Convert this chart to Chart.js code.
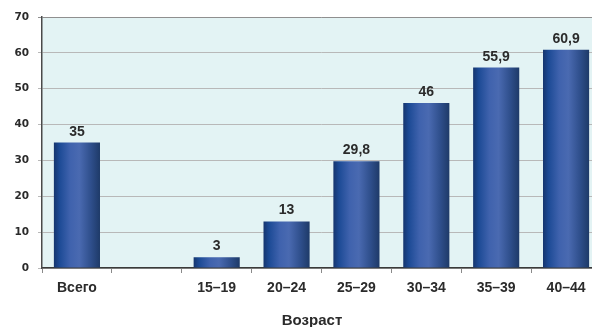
<!DOCTYPE html>
<html>
<head>
<meta charset="utf-8">
<script src="https://cdn.jsdelivr.net/npm/chart.js@4/dist/chart.umd.min.js"></script>
<style>
  html, body { margin: 0; padding: 0; background: #ffffff; overflow: hidden; }
  #wrap { width: 604px; height: 327px; position: relative; }
</style>
</head>
<body>
<div id="wrap"><canvas id="chart"></canvas></div>
<script>
// Age groups and shares (%)
const categories = ['Всего', '', '15–19', '20–24', '25–29', '30–34', '35–39', '40–44'];
const values = [35, null, 3, 13, 29.8, 46, 55.9, 60.9];
const yTicks = [0, 10, 20, 30, 40, 50, 60, 70];
const axisTitle = 'Возраст';

const FONT = '"Liberation Sans", Arial, sans-serif';
const NUM_FONT = '"DejaVu Sans", sans-serif';
const BAR_PCT = 0.66;

// Cylindrical shading for each bar
function barGradient(ctx) {
  const chart = ctx.chart;
  const xs = chart.scales.x;
  if (!xs || !chart.chartArea) return '#3a5ea8';
  const cx = xs.getPixelForValue(ctx.dataIndex);
  const w = ((xs.right - xs.left) / categories.length) * BAR_PCT;
  const g = chart.ctx.createLinearGradient(cx - w / 2, 0, cx + w / 2, 0);
  g.addColorStop(0.0, '#15356e');
  g.addColorStop(0.12, '#1c4a95');
  g.addColorStop(0.35, '#3f62ad');
  g.addColorStop(0.55, '#4a6ab1');
  g.addColorStop(0.8, '#2f4f8c');
  g.addColorStop(1.0, '#1e3a68');
  return g;
}

// Plot-area fill
const plotBg = {
  id: 'plotBg',
  beforeDraw(chart) {
    const { ctx, chartArea: a } = chart;
    ctx.save();
    ctx.fillStyle = '#e3f3f4';
    ctx.fillRect(a.left, a.top, a.right - a.left, a.bottom - a.top);
    ctx.restore();
  }
};

// Value labels above bars
const valueLabels = {
  id: 'valueLabels',
  afterDatasetsDraw(chart) {
    const { ctx } = chart;
    const meta = chart.getDatasetMeta(0);
    ctx.save();
    ctx.font = 'bold 14px ' + FONT;
    ctx.fillStyle = '#2b2b2b';
    ctx.textAlign = 'center';
    ctx.textBaseline = 'alphabetic';
    meta.data.forEach((el, i) => {
      const v = values[i];
      if (v === null || v === undefined) return;
      ctx.fillText(String(v).replace('.', ','), el.x, el.y - 7);
    });
    ctx.restore();
  }
};

// Axis title under the category labels
const xTitle = {
  id: 'xTitle',
  afterDraw(chart) {
    const { ctx } = chart;
    ctx.save();
    ctx.font = 'bold 15px ' + FONT;
    ctx.fillStyle = '#2b2b2b';
    ctx.textAlign = 'center';
    ctx.textBaseline = 'alphabetic';
    ctx.fillText(axisTitle, 312, 324.5);
    ctx.restore();
  }
};

new Chart(document.getElementById('chart'), {
  type: 'bar',
  data: {
    labels: categories,
    datasets: [{
      data: values,
      backgroundColor: barGradient,
      borderWidth: 0,
      barPercentage: BAR_PCT,
      categoryPercentage: 1.0
    }]
  },
  options: {
    responsive: true,
    maintainAspectRatio: false,
    animation: false,
    events: [],
    layout: { padding: { top: 17, right: 3, left: 0, bottom: 0 } },
    plugins: { legend: { display: false }, tooltip: { enabled: false } },
    scales: {
      x: {
        grid: {
          offset: true,
          drawOnChartArea: false,
          drawTicks: true,
          tickLength: 5,
          color: '#8a8a8a'
        },
        border: { display: true, color: '#3a3a3a', width: 1.5 },
        ticks: {
          color: '#2b2b2b',
          font: { family: FONT, size: 14, weight: 'bold' },
          padding: 7,
          maxRotation: 0,
          autoSkip: false
        },
        afterFit(scale) { scale.height = 59; }
      },
      y: {
        min: 0,
        max: 70,
        afterBuildTicks(scale) { scale.ticks = yTicks.map(v => ({ value: v })); },
        grid: {
          color: (c) => (c.tick && c.tick.value === 70 ? '#8f8f8f' : '#b8b8b8'),
          lineWidth: 1,
          tickLength: 4,
          drawTicks: true
        },
        border: { display: true, color: '#4a4a4a', width: 1.5 },
        ticks: {
          color: '#2b2b2b',
          font: { family: NUM_FONT, size: 10.5, weight: 'bold' },
          padding: 9
        },
        afterFit(scale) { scale.width = 42; }
      }
    }
  },
  plugins: [plotBg, valueLabels, xTitle]
});
</script>
</body>
</html>
